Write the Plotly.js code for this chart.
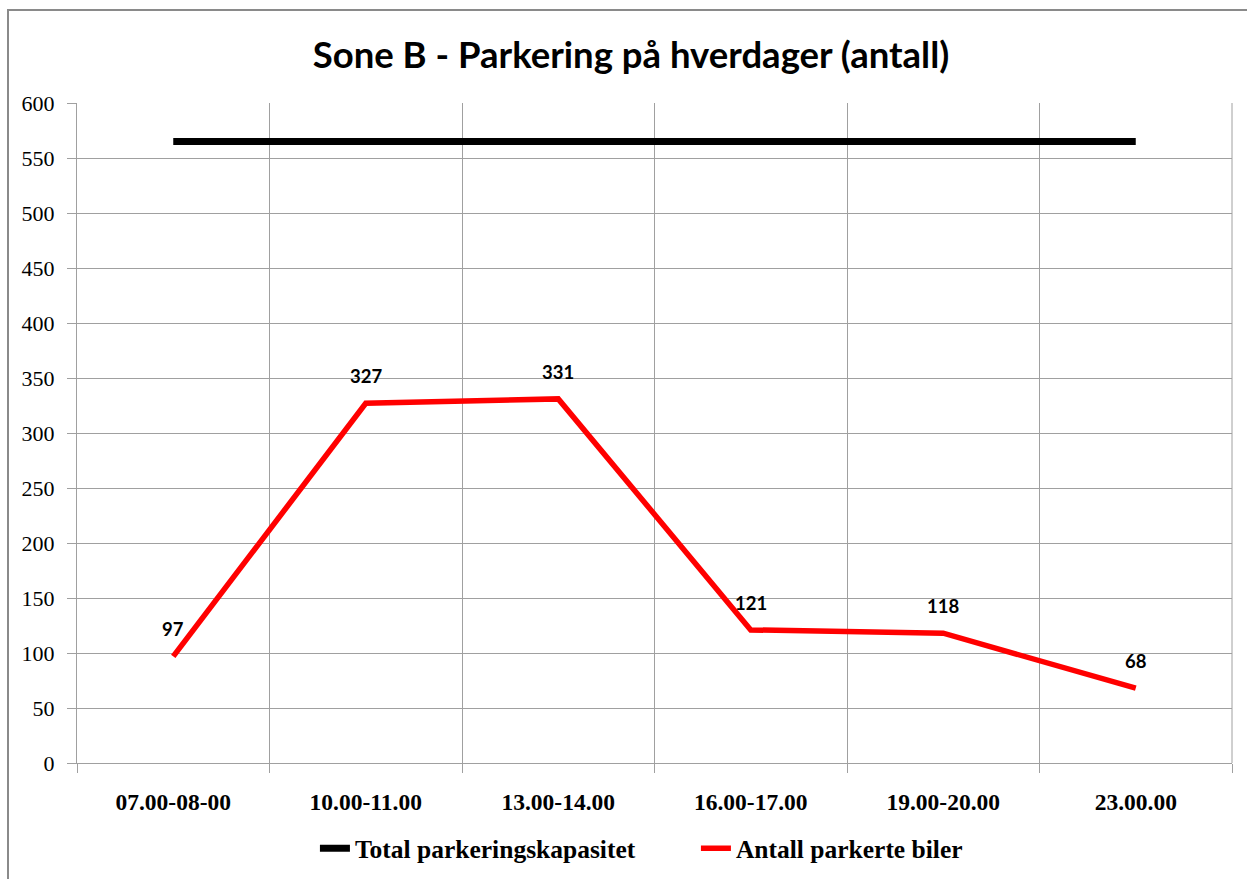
<!DOCTYPE html>
<html>
<head>
<meta charset="utf-8">
<script src="https://cdn.plot.ly/plotly-3.0.1.min.js"></script>
<style>
  html, body { margin: 0; padding: 0; background: #fff; }
  #wrap { position: relative; width: 1247px; height: 879px; }
  #chart { width: 1247px; height: 879px; }
  #frame { position: absolute; left: 7px; top: 9px; width: 1240px; height: 870px;
           border-left: 2px solid #8a8a8a; border-top: 2px solid #8a8a8a; pointer-events: none; }
</style>
</head>
<body>
<div id="wrap">
  <div id="chart"></div>
  <div id="frame"></div>
</div>
<script>
const categories = ["07.00-08-00", "10.00-11.00", "13.00-14.00", "16.00-17.00", "19.00-20.00", "23.00.00"];
const capacity = [565, 565, 565, 565, 565, 565];
const parked = [97, 327, 331, 121, 118, 68];
const seriesNames = ["Total parkeringskapasitet", "Antall parkerte biler"];
const yTicks = [0, 50, 100, 150, 200, 250, 300, 350, 400, 450, 500, 550, 600];

const serif = "Liberation Serif, Times New Roman, serif";
const sans = "Lato, Open Sans, sans-serif";

const traces = [
  { x: categories, y: capacity, name: seriesNames[0], type: "scatter", mode: "lines",
    line: { color: "#000000", width: 7 } },
  { x: categories, y: parked, name: seriesNames[1], type: "scatter", mode: "lines",
    line: { color: "#ff0000", width: 5.5 } }
];

const annotations = categories.map((c, i) => ({
  x: c, y: parked[i], xref: "x", yref: "y", text: "<b>" + parked[i] + "</b>",
  showarrow: false, yshift: 27, font: { family: sans, size: 18.5, color: "#000" }
}));

const layout = {
  width: 1247, height: 879,
  margin: { l: 77, r: 15, t: 103, b: 116, autoexpand: false },
  paper_bgcolor: "#ffffff", plot_bgcolor: "#ffffff",
  title: { text: "<b>Sone B - Parkering på hverdager (antall)</b>", x: 0.506, xanchor: "center",
           y: 0.937, yanchor: "middle", font: { family: sans, size: 36.5, color: "#000" } },
  xaxis: {
    type: "category", range: [-0.5, 5.5], tickson: "boundaries",
    showgrid: true, gridcolor: "#a0a0a0", gridwidth: 1,
    showline: true, linecolor: "#a0a0a0", linewidth: 1, mirror: false,
    ticks: "outside", ticklen: 9, tickcolor: "#a0a0a0",
    tickfont: { family: serif, size: 23.5, color: "#000", weight: "bold" },
    ticklabelstandoff: 18, zeroline: false
  },
  yaxis: {
    range: [0, 600], tickvals: yTicks, ticktext: yTicks.map(String),
    showgrid: true, gridcolor: "#a0a0a0", gridwidth: 1,
    showline: true, linecolor: "#a0a0a0", linewidth: 1,
    ticks: "outside", ticklen: 9, tickcolor: "#a0a0a0",
    tickfont: { family: serif, size: 22, color: "#000" },
    ticklabelstandoff: 8, zeroline: false
  },
  showlegend: true,
  legend: { orientation: "h", x: 0.206, xanchor: "left", y: -0.13, yanchor: "middle",
            font: { family: serif, size: 25.5, color: "#000", weight: "bold" },
            itemwidth: 30, entrywidth: 336, entrywidthmode: "pixels" },
  annotations: annotations,
  shapes: [
    { type: "line", xref: "paper", yref: "paper", x0: 1, x1: 1, y0: 0, y1: 1,
      line: { color: "#a0a0a0", width: 1 } }
  ]
};

Plotly.newPlot("chart", traces, layout, { displayModeBar: false, staticPlot: true });
</script>
</body>
</html>
